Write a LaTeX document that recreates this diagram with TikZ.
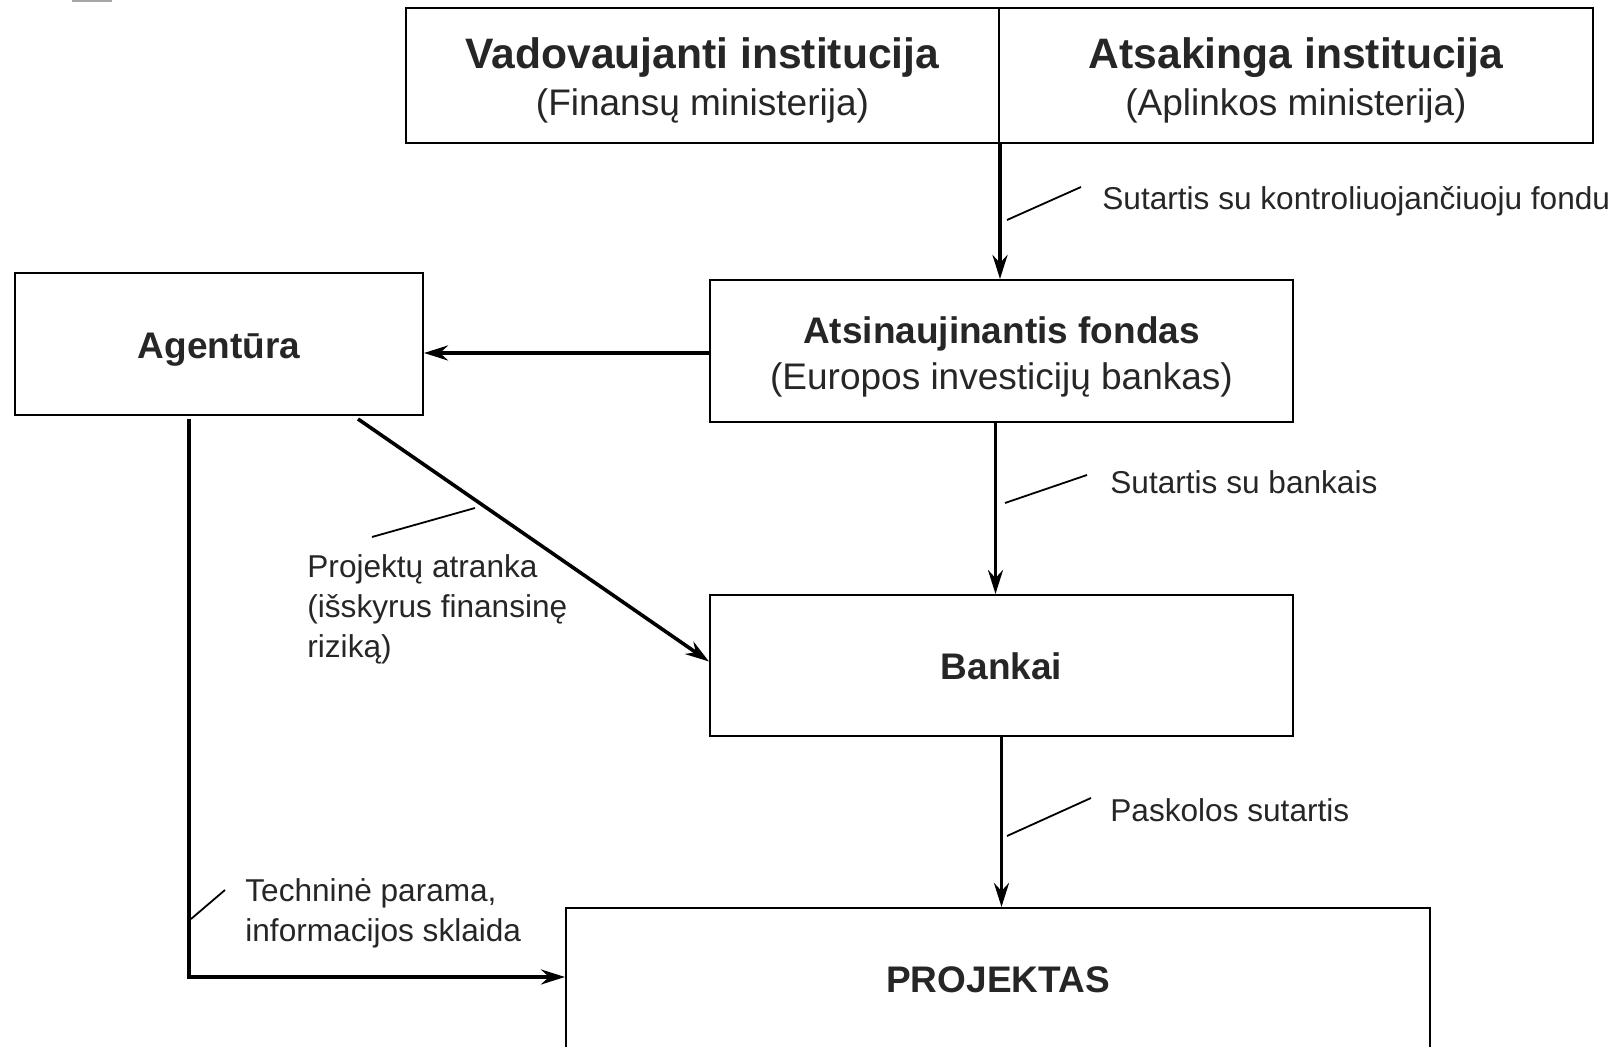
\documentclass[tikz,border=0pt]{standalone}
\usepackage{fontspec}
\setmainfont{Liberation Sans}
\usetikzlibrary{arrows.meta}
\definecolor{txtgray}{HTML}{262626}

\begin{document}
\begin{tikzpicture}[x=0.5pt,y=-0.5pt,
  box/.style={draw=black,line width=1pt,inner sep=0pt,align=center,text=txtgray,
    text depth=0pt,font=\fontsize{18.5}{22}\selectfont},
  flow/.style={black,line width=1.8pt,-{Stealth[length=12pt,width=7.5pt,inset=4pt]}},
  lead/.style={black,line width=0.9pt},
  note/.style={inner sep=0pt,anchor=west,align=left,text=txtgray,
    font=\fontsize{15.8}{20}\selectfont}]
\useasboundingbox (0,0) rectangle (1619,1047);
\fill [black!35] (72,0) rectangle (112,2);
\node [box,minimum width=296.5pt,minimum height=67.5pt,text height=40.5pt,
  font=\fontsize{18.5}{23.5}\selectfont] (vadov) at (702.5,75.5)
  {{\fontsize{21.3}{23.5}\selectfont\bfseries Vadovaujanti institucija}\\(Finansų ministerija)};
\node [box,minimum width=297pt,minimum height=67.5pt,text height=40.5pt,
  font=\fontsize{18.5}{23.5}\selectfont] (atsak) at (1296,75.5)
  {{\fontsize{21.3}{23.5}\selectfont\bfseries Atsakinga institucija}\\(Aplinkos ministerija)};
\node [box,minimum width=291.5pt,minimum height=71pt,text height=38.8pt,
  font=\fontsize{18.5}{23}\selectfont] (fondas) at (1001.5,351)
  {{\bfseries Atsinaujinantis fondas}\\(Europos investicijų bankas)};
\node [box,minimum width=204pt,minimum height=71pt,text height=14.4pt] (agentura) at (219,344)
  {\bfseries Agentūra};
\node [box,minimum width=291.5pt,minimum height=70.5pt,text height=14pt] (bankai) at (1001.5,665.5)
  {\bfseries Bankai};
\node [box,minimum width=432pt,minimum height=71pt,text height=14pt] (projektas) at (998,979)
  {\bfseries PROJEKTAS};
\node [note] (ctrl) at (1102,201) {Sutartis su kontroliuojančiuoju fondu};
\node [note] (bank) at (1110,482) {Sutartis su bankais};
\node [note] (loan) at (1110,810) {Paskolos sutartis};
\node [note] (atranka) at (307,609) {Projektų atranka\\(išskyrus finansinę\\riziką)};
\node [note] (tech) at (245,913) {Techninė parama,\\informacijos sklaida};
\draw [flow] (vadov.south east) -- (vadov.south east |- fondas.north);
\draw [flow] ([xshift=-3pt]fondas.south) -- ([xshift=-3pt]bankai.north);
\draw [flow] (bankai.south) -- (bankai.south |- projektas.north);
\draw [flow] ([yshift=-1pt]fondas.west) -- ([yshift=-1pt]fondas.west -| agentura.east);
\draw [flow] ([xshift=-33pt,yshift=-1.5pt]agentura.south east) -- ([yshift=2pt]bankai.west);
\draw [flow] ([xshift=-15pt,yshift=-1.5pt]agentura.south) |- ([yshift=1pt]projektas.west);
\coordinate (ctrlA) at (1007,220);
\coordinate (ctrlB) at (1081,187);
\coordinate (bankA) at (1005,503);
\coordinate (bankB) at (1087,475);
\coordinate (loanA) at (1007,836);
\coordinate (loanB) at (1091,798);
\coordinate (atrA) at (372,537);
\coordinate (atrB) at (475,508);
\coordinate (techA) at (191,919);
\coordinate (techB) at (225,890);
\draw [lead] (ctrlA) -- (ctrlB);
\draw [lead] (bankA) -- (bankB);
\draw [lead] (loanA) -- (loanB);
\draw [lead] (atrA) -- (atrB);
\draw [lead] (techA) -- (techB);
\end{tikzpicture}
\end{document}
